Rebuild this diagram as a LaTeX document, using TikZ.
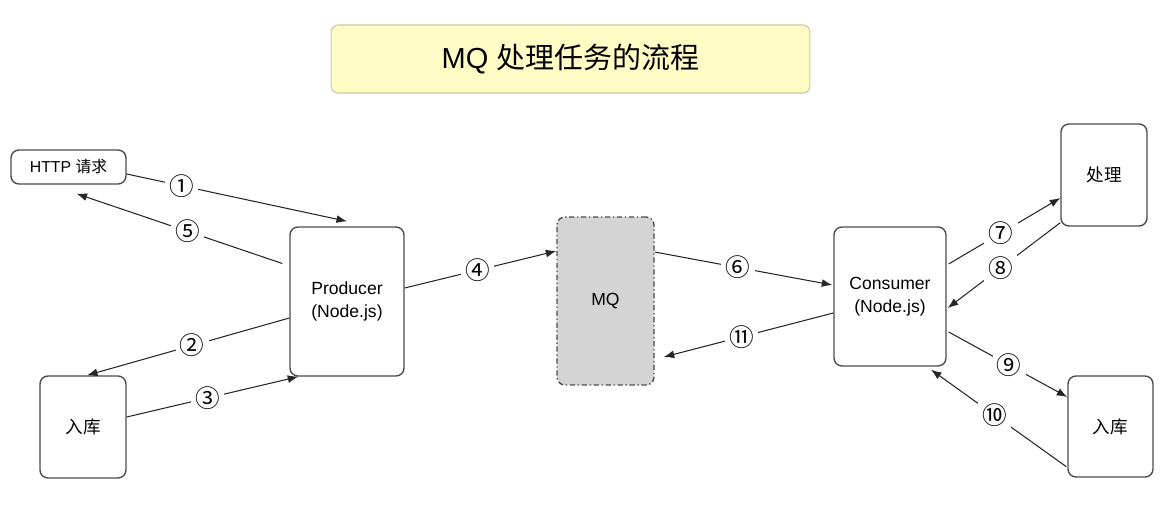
\documentclass[tikz,border=0pt]{standalone}
\usepackage{fontspec}
\setmainfont{Liberation Sans}
\newfontfamily\cjk{Noto Sans CJK SC}
\usetikzlibrary{arrows.meta,calc}
\definecolor{titlefill}{RGB}{255,253,197}
\definecolor{titledraw}{RGB}{205,200,160}
\definecolor{mqfill}{RGB}{212,212,212}
\begin{document}
\begin{tikzpicture}[x=0.02cm,y=-0.02cm,
  box/.style={draw=black!70, line width=0.8pt, rounded corners=4.5pt, align=center, inner sep=0pt, font=\fontsize{10}{13}\selectfont},
  conn/.style={draw=black!85, line width=0.6pt, -{Latex[length=6pt,width=4.5pt]}},
  num/.style={fill=white, inner sep=2.5pt, font=\cjk\fontsize{14}{14}\selectfont}
]
\useasboundingbox (0,0) rectangle (1168,520);

\node[draw=titledraw, fill=titlefill, line width=0.6pt, rounded corners=4pt, minimum width=9.58cm, minimum height=1.36cm, inner sep=0pt, font=\fontsize{16.5}{20}\selectfont] (title) at (570.5,59) {MQ {\cjk 处理任务的流程}};

\node[box, minimum width=2.30cm, minimum height=0.68cm, font=\fontsize{9}{11}\selectfont] (http) at (68.5,167) {HTTP {\cjk 请求}};
\node[box, minimum width=2.28cm, minimum height=2.98cm] (prod) at (347,301.5) {Producer\\(Node.js)};
\node[box, minimum width=1.72cm, minimum height=2.04cm] (lst) at (83,427) {\cjk 入库};
\node[box, dash pattern=on 3pt off 1.5pt on 0.8pt off 1.5pt, fill=mqfill, minimum width=1.94cm, minimum height=3.36cm] (mq) at (605.5,301) {MQ};
\node[box, minimum width=2.24cm, minimum height=2.78cm] (cons) at (890,296.5) {Consumer\\(Node.js)};
\node[box, minimum width=1.72cm, minimum height=2.04cm] (proc) at (1104,175) {\cjk 处理};
\node[box, minimum width=1.70cm, minimum height=2.02cm] (rst) at (1110.5,426.5) {\cjk 入库};

\draw[conn] ($(http.east)+(0,7)$) -- node[num, pos=0.25] {①} ($(prod.north)+(0,-5)$);
\draw[conn] ($(prod.west)+(-7,-38)$) -- node[num, pos=0.46] {⑤} ($(http.south)+(8,9)$);
\draw[conn] ($(prod.west)+(0,16.5)$) -- node[num, pos=0.48] {②} ($(lst.north)+(4,0)$);
\draw[conn] ($(lst.east)+(0,-10)$) -- node[num, pos=0.47] {③} ($(prod.south west)+(9,0)$);
\draw[conn] ($(prod.east)+(0,-13.5)$) -- node[num, pos=0.48] {④} ($(mq.west)+(0,-50)$);
\draw[conn] ($(mq.east)+(0,-49)$) -- node[num, pos=0.47] {⑥} ($(cons.west)+(-1,-11.5)$);
\draw[conn] ($(cons.west)+(0,16.5)$) -- node[num, pos=0.54] {⑪} ($(mq.east)+(9,56)$);
\draw[conn] ($(cons.east)+(2,-32.5)$) -- node[num, pos=0.47] {⑦} ($(proc.west)+(0,23)$);
\draw[conn] ($(proc.south west)+(0,-4)$) -- node[num, pos=0.53] {⑧} ($(cons.east)+(1,11.5)$);
\draw[conn] ($(cons.east)+(2,35.5)$) -- node[num, pos=0.51] {⑨} ($(rst.west)+(0,-29.5)$);
\draw[conn] ($(rst.south west)+(-1,-11)$) -- node[num, pos=0.53] {⑩} ($(cons.south)+(41,3)$);
\end{tikzpicture}
\end{document}
